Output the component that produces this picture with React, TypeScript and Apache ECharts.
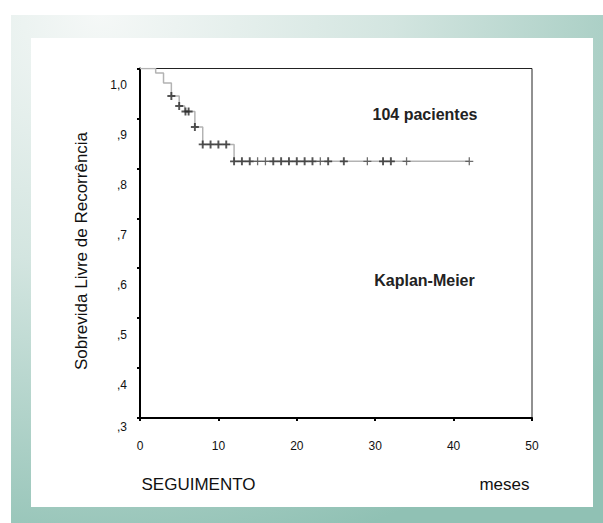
import React, { useEffect, useRef } from "react";
import * as echarts from "echarts";

// Kaplan-Meier step data (event times in months, survival after the drop)
const dropTimes = [0, 2, 3, 4, 5, 5.7, 7, 8, 12];
const survival = [1.0, 0.991, 0.971, 0.945, 0.925, 0.914, 0.883, 0.848, 0.814];
const lastFollowUp = 42;

// Censored observations (months)
const censorBold = [4, 5, 5.8, 6.2, 7, 8, 9, 10, 11, 12, 13, 14, 17, 18, 19, 20, 21, 22, 24, 26, 31, 32];
const censorLight = [15, 16, 23, 29, 34, 42];

const yTicks = [0.3, 0.4, 0.5, 0.6, 0.7, 0.8, 0.9, 1.0];
const xTicks = [0, 10, 20, 30, 40, 50];

const FONT = "'Liberation Sans', Arial, Helvetica, sans-serif";

function levelAt(t: number): number {
  let s = survival[0];
  for (let i = 0; i < dropTimes.length; i++) {
    if (dropTimes[i] <= t) s = survival[i];
  }
  return s;
}

const stepData: [number, number][] = dropTimes
  .map((t, i) => [t, survival[i]] as [number, number])
  .concat([[lastFollowUp, levelAt(lastFollowUp)]]);

const crossBold = "path://M3.8,0H6.2V3.8H10V6.2H6.2V10H3.8V6.2H0V3.8H3.8Z";
const crossLight = "path://M4.2,0H5.8V4.2H10V5.8H5.8V10H4.2V5.8H0V4.2H4.2Z";

export default function App() {
  const ref = useRef<HTMLDivElement>(null);
  useEffect(() => {
    if (!ref.current) return;
    const chart = echarts.init(ref.current, undefined, { renderer: "svg" });
    chart.setOption({
      animation: false,
      backgroundColor: "#ffffff",
      graphic: [
        {
          type: "rect",
          z: -10,
          silent: true,
          shape: { x: 11, y: 15, width: 592, height: 508 },
          style: {
            fill: new echarts.graphic.RadialGradient(0.15, 0, 1.1, [
              { offset: 0, color: "#f5f8f7" },
              { offset: 0.45, color: "#d3e5e0" },
              { offset: 1, color: "#90c1b4" },
            ]),
          },
        },
        {
          type: "rect",
          z: -9,
          silent: true,
          shape: { x: 31, y: 38, width: 562, height: 469 },
          style: { fill: "#ffffff" },
        },
        {
          type: "text",
          x: 81,
          y: 251,
          rotation: Math.PI / 2,
          style: {
            text: "Sobrevida Livre de Recorrência",
            fontFamily: FONT,
            fontSize: 17,
            fill: "#111",
            align: "center",
            verticalAlign: "middle",
          },
        },
        {
          type: "text",
          x: 141.5,
          y: 484,
          style: {
            text: "SEGUIMENTO",
            fontFamily: FONT,
            fontSize: 17,
            fill: "#111",
            align: "left",
            verticalAlign: "middle",
          },
        },
        {
          type: "text",
          x: 529.5,
          y: 484,
          style: {
            text: "meses",
            fontFamily: FONT,
            fontSize: 17,
            fill: "#111",
            align: "right",
            verticalAlign: "middle",
          },
        },
        {
          type: "text",
          x: 425,
          y: 114,
          style: {
            text: "104 pacientes",
            fontFamily: FONT,
            fontSize: 16,
            fontWeight: "bold",
            fill: "#222",
            align: "center",
            verticalAlign: "middle",
          },
        },
        {
          type: "text",
          x: 424.5,
          y: 280,
          style: {
            text: "Kaplan-Meier",
            fontFamily: FONT,
            fontSize: 16,
            fontWeight: "bold",
            fill: "#222",
            align: "center",
            verticalAlign: "middle",
          },
        },
      ],
      grid: {
        left: 140,
        right: 71,
        top: 68.5,
        bottom: 105,
        show: true,
        borderColor: "#222",
        borderWidth: 1,
        backgroundColor: "transparent",
      },
      xAxis: {
        type: "value",
        min: xTicks[0],
        max: xTicks[xTicks.length - 1],
        interval: 10,
        axisLine: { show: true, onZero: false, lineStyle: { color: "#000", width: 2 } },
        axisTick: { show: true, length: 3, lineStyle: { color: "#000", width: 2 } },
        axisLabel: { margin: 22, fontFamily: FONT, fontSize: 12, color: "#111" },
        splitLine: { show: false },
      },
      yAxis: {
        type: "value",
        min: yTicks[0],
        max: yTicks[yTicks.length - 1],
        interval: 0.1,
        axisLine: { show: true, onZero: false, lineStyle: { color: "#000", width: 2 } },
        axisTick: { show: true, length: 3, lineStyle: { color: "#000", width: 2 } },
        axisLabel: {
          margin: 13,
          fontFamily: FONT,
          fontSize: 12,
          color: "#111",
          verticalAlign: "middle",
          formatter: (v: number) => {
            const k = Math.round(v * 10);
            const txt = k === 10 ? "1,0" : "," + k;
            return k === 3 ? `{l|${txt}}` : `{n|${txt}}`;
          },
          rich: {
            n: { fontFamily: FONT, fontSize: 12, color: "#111", padding: [33, 0, 0, 0] },
            l: { fontFamily: FONT, fontSize: 12, color: "#111", padding: [18, 0, 0, 0] },
          },
        },
        splitLine: { show: false },
      },
      series: [
        {
          type: "line",
          step: "end",
          data: stepData,
          showSymbol: false,
          symbol: "none",
          lineStyle: { color: "#b3b3b3", width: 1.5 },
          z: 2,
        },
        {
          type: "scatter",
          data: censorBold.map((t) => [t, levelAt(t)]),
          symbol: crossBold,
          symbolSize: 8,
          itemStyle: { color: "#2a2a2a" },
          z: 3,
        },
        {
          type: "scatter",
          data: censorLight.map((t) => [t, levelAt(t)]),
          symbol: crossLight,
          symbolSize: 8,
          itemStyle: { color: "#4a4a4a" },
          z: 3,
        },
      ],
    });
    return () => chart.dispose();
  }, []);
  return (
    <div
      ref={ref}
      style={{ position: "fixed", left: 0, top: 0, width: 603, height: 523 }}
    />
  );
}
